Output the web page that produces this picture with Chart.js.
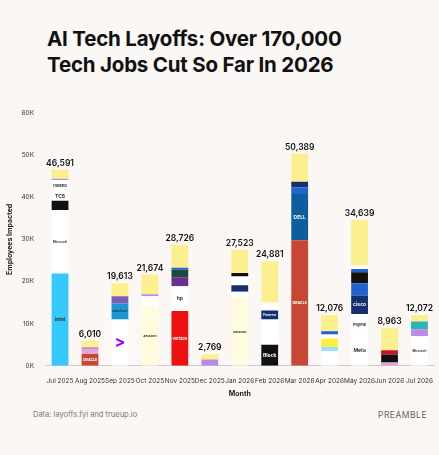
<!DOCTYPE html><html><head><meta charset="utf-8">
<script src="https://cdn.jsdelivr.net/npm/chart.js@4"></script>
<style>
body{margin:0;background:#faf7f5;font-family:Inter,"Noto Sans",sans-serif;width:439px;height:455px;overflow:hidden;position:relative}
h1{position:absolute;left:47px;top:26px;margin:0;font-size:20.5px;line-height:26px;font-weight:700;color:#111;letter-spacing:-0.2px}
#wrap{position:absolute;left:2px;top:105px;width:434px;height:297px}
.f{position:absolute;top:410px;font-size:7.5px;color:#777}
</style></head><body>
<h1>AI Tech Layoffs: Over 170,000<br>Tech Jobs Cut So Far In 2026</h1>
<div id="wrap"><canvas id="c"></canvas></div>
<div class="f" style="left:33px">Data: layoffs.fyi and trueup.io</div>
<div class="f" style="right:12px;font-size:8.5px;letter-spacing:0.5px;color:#666">PREAMBLE</div>
<script>
const months=["Jul 2025","Aug 2025","Sep 2025","Oct 2025","Nov 2025","Dec 2025","Jan 2026","Feb 2026","Mar 2026","Apr 2026","May 2026","Jun 2026","Jul 2026"];
const totals=[46591,6010,19613,21674,28726,2769,27523,24881,50389,12076,34639,8963,12072];
// segment sizes (bottom to top), thousands
const segValues=[
 [21.9,15.1,2.2,2.0,2.9,0.3,2.19],
 [2.8,1.2,0.4,1.61],
 [11.0,3.8,1.7,3.11],
 [14.0,2.5,0.5,4.67],
 [13.0,5.9,2.1,1.8,0.5,5.43],
 [1.5,1.27],
 [16.0,1.6,1.5,2.1,0.8,5.52],
 [5.0,6.0,2.1,1.9,9.88],
 [29.8,11.0,1.5,1.4,6.69],
 [3.5,1.0,1.9,1.0,0.8,3.88],
 [7.2,5.1,4.4,2.9,2.6,0.8,0.8,10.84],
 [0.8,1.9,1.0,5.26],
 [7.0,1.7,1.8,1.57]
];
const segNames=[
 ["intel","Microsoft","","TCS","Indeed","",""],
 ["ORACLE","","",""],
 [">","salesforce","",""],
 ["amazon","","",""],
 ["verizon","hp","","","",""],
 ["",""],
 ["amazon","Meta","AMD","","",""],
 ["Block","","Pinterest","",""],
 ["ORACLE","DELL","","",""],
 ["","","","","",""],
 ["Meta","PayPal","cisco","","","","",""],
 ["","","",""],
 ["Microsoft","","",""]
];
const Y="#fcef8e",P="#b98be6",W="#ffffff",K="#111111",NV="#14306e",BL="#1f62d6";
const segColors=[
 ["#35c9fb",W,K,W,W,P,Y],
 ["#c74634","#e9a2d6",P,Y],
 [W,"#1a98d5","#7d5bb8",Y],
 ["#fffbdc",W,P,Y],
 ["#ee1111",W,"#6b2f8e","#1f4a3f",BL,Y],
 [P,Y],
 ["#fffbdc",W,NV,W,K,Y],
 [K,W,NV,W,Y],
 ["#c74634","#0b5f9e",BL,NV,Y],
 [W,"#9fe0f2","#ffef3a",W,BL,Y],
 [W,W,NV,BL,K,BL,W,Y],
 ["#e9a2d6",K,"#cc1122",Y],
 [W,P,"#2bb3b8",Y]
];
const maxSeg=Math.max(...segValues.map(s=>s.length));
const datasets=[];
for(let i=0;i<maxSeg;i++){
 datasets.push({data:segValues.map(s=>s[i]!==undefined?s[i]*1000:null),
  backgroundColor:segColors.map(c=>c[i]||"#fff"),
  borderWidth:0,barPercentage:0.56,categoryPercentage:1});
}
const labels={id:"lbl",afterDatasetsDraw(ch){
 const x=ch.ctx;x.save();x.textAlign="center";
 ch.data.datasets.forEach((d,i)=>{ch.getDatasetMeta(i).data.forEach((b,j)=>{
  const n=segNames[j][i];if(!n||!d.data[j])return;
  if(Math.abs(b.base-b.y)<7)return;
  const dark=["#111111","#14306e","#0b5f9e","#c74634","#ee1111","#1f62d6"].includes(segColors[j][i]);
  x.fillStyle=n===">"?"#a100ff":(dark?"#fff":"#333");
  let fs=n===">"?16:5;x.font="bold "+fs+"px Inter";
  while(fs>3&&x.measureText(n).width>b.width-2){fs-=0.5;x.font="bold "+fs+"px Inter";}
  x.textBaseline="middle";
  x.fillText(n,b.x,(b.y+b.base)/2);});});
 const last=ch.getDatasetMeta(0);
 x.fillStyle="#111";x.font="600 8.5px Inter";x.textBaseline="bottom";
 totals.forEach((t,j)=>{const yy=ch.scales.y.getPixelForValue(t);x.fillText(t.toLocaleString("en-US"),last.data[j].x,yy-2);});
 x.restore();}};
new Chart(document.getElementById("c"),{type:"bar",data:{labels:months,datasets},
 plugins:[labels],
 options:{responsive:true,maintainAspectRatio:false,animation:false,
  layout:{padding:{left:0,right:0,top:8}},
  plugins:{legend:{display:false},tooltip:{enabled:false}},
  scales:{
   x:{stacked:true,grid:{display:false},border:{color:"#ccc"},ticks:{color:"#333",font:{size:6.5,family:"Inter"},maxRotation:0,autoSkip:false,padding:3},
      title:{display:true,text:"Month",font:{size:7,weight:"bold",family:"Inter"},color:"#222",padding:{top:2}}},
   y:{stacked:true,min:0,max:60000,grid:{display:false},border:{display:false},
      ticks:{stepSize:10000,color:"#333",font:{size:6.5,family:"Inter"},callback:v=>(v/1000)+"K"},
      title:{display:true,text:"Employees Impacted",font:{size:7,weight:"bold",family:"Inter"},color:"#222"}}
  }}});
</script></body></html>
